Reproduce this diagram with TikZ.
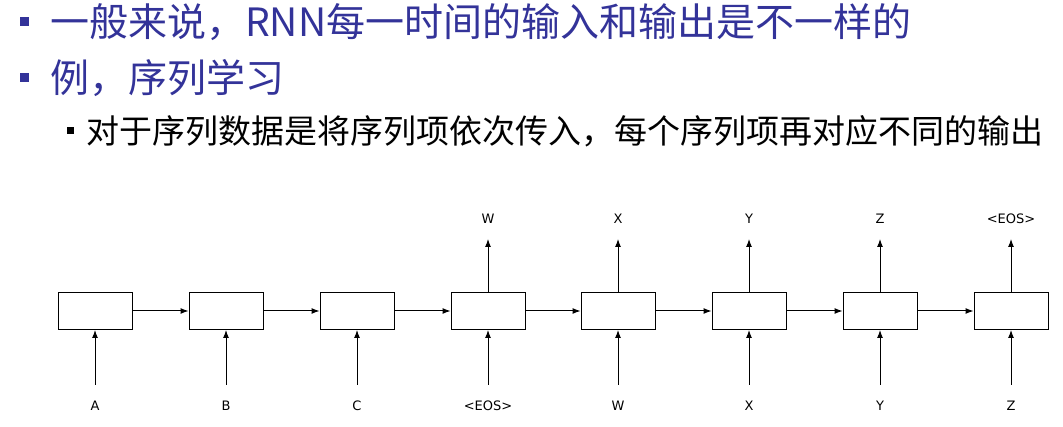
\documentclass[tikz,border=0pt]{standalone}
\usepackage{fontspec}
\usetikzlibrary{arrows.meta}
\newfontfamily\cjk{Noto Sans CJK SC}
\newfontfamily\lab{DejaVu Sans}
\begin{document}
\begin{tikzpicture}[x=1pt,y=-1pt,
  cell/.style={draw,line width=1pt,minimum width=74pt,minimum height=37pt,inner sep=0pt},
  lbl/.style={font=\lab\fontsize{13}{13}\selectfont,inner sep=0pt},
  arr/.style={-{Latex[length=8pt,width=6pt]},line width=1pt},
  top/.style={font=\cjk\fontsize{39}{39}\selectfont,anchor=west,inner sep=0pt},
  sub/.style={font=\cjk\fontsize{33}{33}\selectfont,anchor=west,inner sep=0pt},
  bul/.style={fill=#1,minimum size=9pt,inner sep=0pt}]
\useasboundingbox (0,0) rectangle (1063,427);
\definecolor{bc}{HTML}{333399}
\node[bul=bc] (b1) at (24,22) {};
\node[top,text=bc] (t1) at (50,22) {一般来说，RNN每一时间的输入和输出是不一样的};
\node[bul=bc] (b2) at (24,78) {};
\node[top,text=bc] (t2) at (50,78) {例，序列学习};
\node[bul=black,minimum size=7pt] (b3) at (70,131) {};
\node[sub] (t3) at (86,131) {对于序列数据是将序列项依次传入，每个序列项再对应不同的输出};
\foreach \i/\x/\inp in {1/95/A,2/226/B,3/357/C,4/488/<EOS>,5/618/W,6/749/X,7/880/Y,8/1011/Z}{
  \node[cell] (c\i) at (\x,311) {};
  \node[lbl] (in\i) at (\x,406) {\inp};
  \draw[arr] (\x,385) coordinate (ia\i) -- (c\i.south);
}
\foreach \i/\out in {4/W,5/X,6/Y,7/Z,8/<EOS>}{
  \path (c\i.north) ++(0,-53) coordinate (oa\i);
  \draw[arr] (c\i.north) -- (oa\i);
  \node[lbl] (out\i) at ([yshift=20pt]oa\i) {\out};
}
\foreach \a/\b in {1/2,2/3,3/4,4/5,5/6,6/7,7/8}{
  \draw[arr] (c\a.east) -- (c\b.west);
}
\end{tikzpicture}
\end{document}
